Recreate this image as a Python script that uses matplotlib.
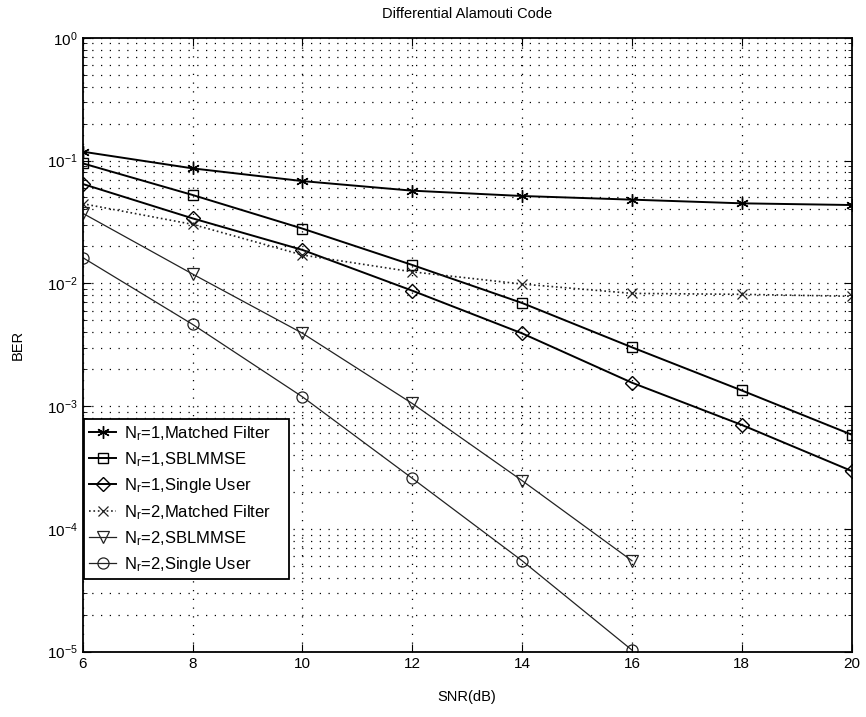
import matplotlib
matplotlib.use('Agg')
import matplotlib.pyplot as plt
import numpy as np
from matplotlib.ticker import LogLocator, NullFormatter

plt.rcParams['font.family'] = ['Liberation Sans', 'DejaVu Sans']
plt.rcParams['mathtext.default'] = 'regular'

# SNR points in dB
snr = [6, 8, 10, 12, 14, 16, 18, 20]
snr_short = [6, 8, 10, 12, 14, 16]

# BER curves, one receive antenna
ber_mf_1 = [0.118, 0.0863, 0.068, 0.0568, 0.0514, 0.048, 0.0448, 0.0434]
ber_sbl_1 = [0.0948, 0.0524, 0.0279, 0.0141, 0.00691, 0.00301, 0.00134, 0.000585]
ber_su_1 = [0.0644, 0.0338, 0.0187, 0.00871, 0.00391, 0.00155, 0.000702, 0.000296]

# BER curves, two receive antennas
ber_mf_2 = [0.0445, 0.0302, 0.0170, 0.0124, 0.00986, 0.00828, 0.00813, 0.00784]
ber_sbl_2 = [0.0372, 0.0119, 0.00392, 0.00105, 0.000247, 5.5e-5]
ber_su_2 = [0.0162, 0.00463, 0.00119, 0.000258, 5.5e-5, 1.03e-5]

labels = ['N$_r$=1,Matched Filter', 'N$_r$=1,SBLMMSE', 'N$_r$=1,Single User',
          'N$_r$=2,Matched Filter', 'N$_r$=2,SBLMMSE', 'N$_r$=2,Single User']

fig = plt.figure(figsize=(8.66, 7.17), dpi=100)
ax = fig.add_axes([0.0955, 0.0911, 0.888, 0.8563])

asterisk = (6, 2, 0)
ax.semilogy(snr, ber_mf_1, '-', color='k', lw=1.4, marker=asterisk, ms=9, mew=1.0, label=labels[0])
ax.semilogy(snr, ber_sbl_1, '-', color='k', lw=1.4, marker='s', ms=7, mfc='none', mew=1.0, label=labels[1])
ax.semilogy(snr, ber_su_1, '-', color='k', lw=1.4, marker='D', ms=7, mfc='none', mew=1.0, label=labels[2])
ax.semilogy(snr, ber_mf_2, ':', color='#222222', lw=1.2, marker='x', ms=7, mew=0.9, label=labels[3])
ax.semilogy(snr_short, ber_sbl_2, '-', color='#222222', lw=0.9, marker='v', ms=8, mfc='none', mew=0.9, label=labels[4])
ax.semilogy(snr_short, ber_su_2, '-', color='#222222', lw=0.9, marker='o', ms=8, mfc='none', mew=0.9, label=labels[5])

ax.set_xlim(6, 20)
ax.set_ylim(1e-5, 1)
ax.set_xticks(snr)
ax.yaxis.set_major_locator(LogLocator(base=10, numticks=10))
ax.yaxis.set_minor_locator(LogLocator(base=10, subs=np.arange(2, 10), numticks=100))
ax.yaxis.set_minor_formatter(NullFormatter())

# sparse dotted grid, minor lines only along y
ax.grid(True, which='major', axis='both', color='k', linestyle=(0, (1, 6)), lw=0.9)
ax.grid(True, which='minor', axis='y', color='k', linestyle=(0, (1, 6)), lw=0.9)

ax.tick_params(which='both', direction='in', top=True, right=True, labelsize=11)
ax.tick_params(which='major', length=6)
ax.tick_params(which='minor', length=3)
for sp in ax.spines.values():
    sp.set_linewidth(1.3)

ax.set_title('Differential Alamouti Code', fontsize=10.5, pad=14)
ax.set_xlabel('SNR(dB)', fontsize=10.5, labelpad=14)
ax.set_ylabel('BER', fontsize=10.5, labelpad=16)

leg = ax.legend(loc='lower left', bbox_to_anchor=(0.002, 0.118, 0.266, 0.254), mode='expand',
                fontsize=12, fancybox=False, framealpha=1, edgecolor='k',
                borderpad=0.3, labelspacing=0.45, handlelength=1.6, handletextpad=0.5,
                borderaxespad=0)
leg.get_frame().set_linewidth(1.3)

fig.savefig('out.png', dpi=100)
